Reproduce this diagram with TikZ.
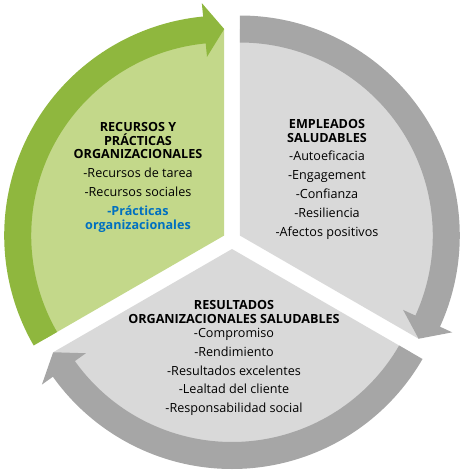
\documentclass[tikz,border=0pt]{standalone}
\usepackage{fontspec}
\setmainfont{Open Sans}
\usepackage{tikz}

\definecolor{leafband}{HTML}{8FB73E}
\definecolor{leaffill}{HTML}{C3D88A}
\definecolor{greyband}{HTML}{A6A6A6}
\definecolor{greyfill}{HTML}{D9D9D9}
\definecolor{itemblue}{HTML}{0070C0}

% #1 start angle, #2 tip angle, #3 fill colour, #4 band colour
\newcommand{\cyclepart}[4]{%
  \fill[#3] (0,0) -- (#1:206.5) arc[start angle=#1, end angle=#2, radius=206.5] -- cycle;
  \fill[#4] (#1:220) arc[start angle=#1, end angle=#2+5.5, radius=220]
    -- (#2+5.5:233.5) -- (#2:206.5) -- (#2+5.5:179.5) -- (#2+5.5:193)
    arc[start angle=#2+5.5, end angle=#1, radius=193] -- cycle;
}

\begin{document}
\begin{tikzpicture}[x=1pt,y=1pt]
   \tikzstyle{cycle text}=[align=center,inner sep=0pt,anchor=north,font=\fontsize{12.6}{13.8}\selectfont]
   \useasboundingbox (-232,-235) rectangle (232,240);

   \begin{scope}[shift={(150:9)}]
     \cyclepart{210}{90}{leaffill}{leafband}
   \end{scope}
   \begin{scope}[shift={(30:9)}]
     \cyclepart{90}{-30}{greyfill}{greyband}
   \end{scope}
   \begin{scope}[shift={(270:9)}]
     \cyclepart{330}{210}{greyfill}{greyband}
   \end{scope}

   \node[cycle text] (recursos) at (-94,118)
     {\textbf{RECURSOS Y}\\\textbf{PRÁCTICAS}\\\textbf{ORGANIZACIONALES}\\[5pt]
      -Recursos de tarea\\[5pt]-Recursos sociales\\[5pt]
      \textcolor{itemblue}{\textbf{-Prácticas}}\\\textcolor{itemblue}{\textbf{organizacionales}}};
   \node[cycle text] (empleados) at (95,121)
     {\textbf{EMPLEADOS}\\\textbf{SALUDABLES}\\[5pt]
      -Autoeficacia\\[5pt]-Engagement\\[5pt]-Confianza\\[5pt]
      -Resiliencia\\[5pt]-Afectos positivos};
   \node[cycle text] (resultados) at (2,-60.5)
     {\textbf{RESULTADOS}\\\textbf{ORGANIZACIONALES SALUDABLES}\\
      -Compromiso\\[5pt]-Rendimiento\\[5pt]-Resultados excelentes\\[5pt]
      -Lealtad del cliente\\[5pt]-Responsabilidad social};
\end{tikzpicture}
\end{document}
